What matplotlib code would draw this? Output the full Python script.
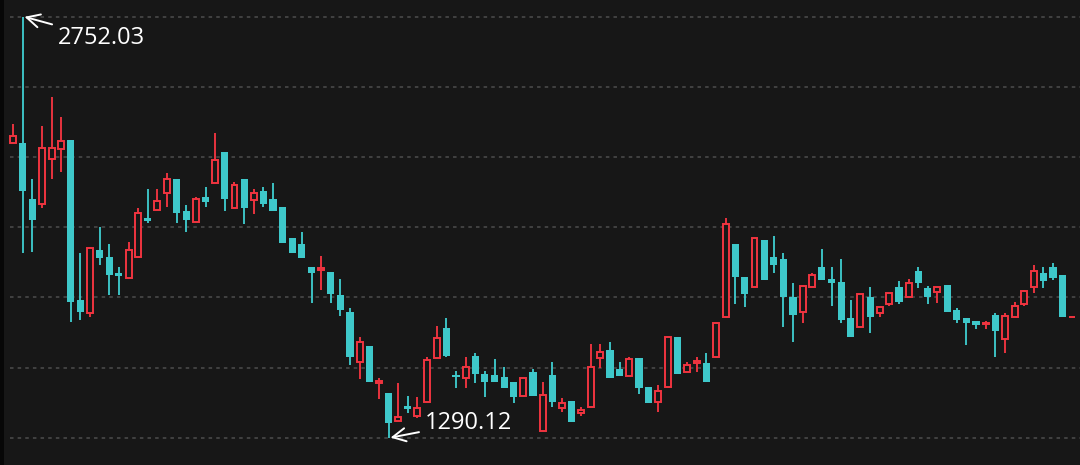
import numpy as np
import matplotlib
matplotlib.use("Agg")
import matplotlib.pyplot as plt

plt.rcParams['font.family'] = ['Open Sans', 'DejaVu Sans']

# daily candles
opens = [2314.5, 2314.5, 2120.0, 2102.6, 2258.9, 2293.6, 2324.9, 1769.3, 1724.1, 1942.9,
         1918.6, 1863.0, 1845.7, 1918.6, 2054.0, 2081.8, 2140.8, 2189.5, 2078.3, 2040.1,
         2127.0, 2175.6, 2283.2, 2088.8, 2189.5, 2116.5, 2147.8, 2120.0, 2092.2, 1984.6,
         1963.7, 1883.9, 1873.5, 1866.5, 1786.6, 1727.6, 1554.0, 1609.5, 1481.1, 1446.3,
         1349.1, 1401.2, 1366.5, 1415.1, 1567.9, 1672.1, 1508.8, 1498.4, 1574.8, 1512.3,
         1508.8, 1501.9, 1484.5, 1435.9, 1519.3, 1314.4, 1508.8, 1394.3, 1418.6, 1376.9,
         1397.7, 1567.9, 1595.7, 1529.7, 1505.4, 1567.9, 1467.2, 1415.1, 1467.2, 1640.8,
         1519.3, 1550.5, 1550.5, 1571.4, 1710.3, 1963.7, 1849.2, 1814.4, 1977.6, 1918.6,
         1911.7, 1779.7, 1727.6, 1814.4, 1883.9, 1842.2, 1831.8, 1706.8, 1675.5, 1779.7,
         1724.1, 1755.4, 1814.4, 1779.7, 1870.0, 1811.0, 1797.1, 1821.4, 1734.6, 1706.8,
         1696.4, 1685.9, 1717.2, 1633.9, 1710.3, 1755.4, 1814.4, 1863.0, 1883.9, 1856.1,
         1710.3]
highs = [2380.4, 2752.03, 2189.5, 2373.5, 2474.2, 2404.7, 2324.9, 1932.5, 1953.3, 2022.8,
         1963.7, 1883.9, 1970.7, 2088.8, 2154.7, 2154.7, 2210.3, 2189.5, 2099.2, 2127.0,
         2161.7, 2349.2, 2283.2, 2179.0, 2189.5, 2154.7, 2161.7, 2175.6, 2092.2, 1984.6,
         2005.4, 1883.9, 1922.1, 1866.5, 1842.2, 1741.5, 1640.8, 1609.5, 1498.4, 1446.3,
         1481.1, 1435.9, 1432.5, 1571.4, 1679.0, 1706.8, 1522.7, 1571.4, 1585.2, 1522.7,
         1564.4, 1536.6, 1484.5, 1498.4, 1529.7, 1484.5, 1554.0, 1429.0, 1418.6, 1397.7,
         1616.5, 1616.5, 1623.4, 1554.0, 1571.4, 1567.9, 1467.2, 1474.1, 1640.8, 1640.8,
         1554.0, 1571.4, 1585.2, 1689.4, 2054.0, 1963.7, 1849.2, 1984.6, 1977.6, 1991.5,
         1932.5, 1828.3, 1817.9, 1863.0, 1946.4, 1883.9, 1911.7, 1769.3, 1790.1, 1814.4,
         1745.0, 1793.6, 1835.3, 1842.2, 1883.9, 1817.9, 1814.4, 1821.4, 1741.5, 1706.8,
         1696.4, 1696.4, 1724.1, 1724.1, 1762.3, 1804.0, 1890.8, 1883.9, 1897.8, 1856.1,
         1710.3]
lows = [2314.5, 1932.5, 1936.0, 2088.8, 2189.5, 2213.8, 1692.9, 1699.8, 1710.3, 1890.8,
        1786.6, 1786.6, 1845.7, 1918.6, 2036.7, 2081.8, 2092.2, 2036.7, 2005.4, 2040.1,
        2092.2, 2175.6, 2078.3, 2088.8, 2033.2, 2067.9, 2092.2, 2078.3, 1967.2, 1932.5,
        1915.1, 1758.9, 1804.0, 1758.9, 1713.7, 1543.6, 1495.0, 1484.5, 1425.5, 1290.12,
        1349.1, 1376.9, 1359.5, 1415.1, 1567.9, 1571.4, 1463.7, 1463.7, 1481.1, 1432.5,
        1484.5, 1463.7, 1411.6, 1435.9, 1435.9, 1314.4, 1397.7, 1380.4, 1345.6, 1366.5,
        1397.7, 1533.2, 1498.4, 1505.4, 1505.4, 1442.9, 1411.6, 1380.4, 1467.2, 1512.3,
        1519.3, 1519.3, 1484.5, 1571.4, 1710.3, 1755.4, 1745.0, 1814.4, 1838.7, 1863.0,
        1675.5, 1623.4, 1689.4, 1814.4, 1838.7, 1748.4, 1689.4, 1640.8, 1675.5, 1654.7,
        1710.3, 1748.4, 1755.4, 1779.7, 1811.0, 1755.4, 1758.9, 1727.6, 1689.4, 1613.0,
        1668.6, 1668.6, 1571.4, 1585.2, 1710.3, 1748.4, 1793.6, 1811.0, 1838.7, 1710.3,
        1710.3]
closes = [2338.8, 2147.8, 2047.1, 2297.1, 2297.1, 2321.4, 1762.3, 1727.6, 1949.9, 1915.1,
          1856.1, 1852.6, 1942.9, 2071.4, 2043.6, 2113.1, 2189.5, 2071.4, 2047.1, 2120.0,
          2109.6, 2255.4, 2120.0, 2168.6, 2088.8, 2140.8, 2102.6, 2078.3, 1967.2, 1932.5,
          1915.1, 1863.0, 1880.4, 1790.1, 1734.6, 1571.4, 1623.4, 1484.5, 1488.0, 1342.2,
          1363.0, 1390.8, 1394.3, 1560.9, 1637.3, 1574.8, 1501.9, 1536.6, 1512.3, 1484.5,
          1484.5, 1463.7, 1432.5, 1498.4, 1435.9, 1439.4, 1415.1, 1411.6, 1345.6, 1387.3,
          1536.6, 1588.7, 1498.4, 1505.4, 1564.4, 1463.7, 1411.6, 1453.3, 1640.8, 1512.3,
          1543.6, 1557.5, 1484.5, 1689.4, 2033.2, 1849.2, 1790.1, 1984.6, 1838.7, 1890.8,
          1779.7, 1717.2, 1817.9, 1856.1, 1838.7, 1828.3, 1699.8, 1640.8, 1790.1, 1710.3,
          1745.0, 1793.6, 1762.3, 1828.3, 1828.3, 1779.7, 1814.4, 1727.6, 1699.8, 1689.4,
          1682.5, 1689.4, 1661.6, 1713.7, 1748.4, 1800.5, 1870.0, 1835.3, 1845.7, 1710.3,
          1710.3]

BG = '#171717'
RED = '#f03440'
TEAL = '#3ec8ca'
GRID = '#4d4d4d'

o = np.array(opens)
h = np.array(highs)
l = np.array(lows)
c = np.array(closes)
x = np.arange(len(o))
up = c >= o
cols = np.where(up, RED, TEAL)
body_lo = np.minimum(o, c)
body_hi = np.maximum(o, c)

fig = plt.figure(figsize=(10.8, 4.65), dpi=100, facecolor='#070707')
ax = fig.add_axes([4 / 1080, 0, 1 - 4 / 1080, 1])
ax.set_facecolor(BG)

# grid: 7 evenly spaced levels from low to high
lo, hi = l.min(), h.max()
step = (hi - lo) / 6
for lvl in np.linspace(lo, hi, 7):
    ax.axhline(lvl, xmin=0.006, color=GRID, lw=1.1, ls=(0, (2.3, 2.7)), zorder=0)

# wicks
ax.vlines(x, body_hi, h, colors=cols, lw=1.35, zorder=2)
ax.vlines(x, l, body_lo, colors=cols, lw=1.35, zorder=2)

# bodies: rising = hollow red, falling = filled teal
ax.bar(x[up], (body_hi - body_lo)[up], bottom=body_lo[up], width=0.62,
       facecolor=BG, edgecolor=RED, linewidth=1.4, zorder=3)
ax.bar(x[~up], (body_hi - body_lo)[~up], bottom=body_lo[~up], width=0.74,
       color=TEAL, linewidth=0, zorder=3)

ax.set_xlim(-0.935, 110.8)
ax.set_ylim(lo - 0.39 * step, hi + 0.24 * step)

# max / min labels
imax = int(np.argmax(h))
imin = int(np.argmin(l))
arrow = dict(arrowstyle='->, head_length=0.55, head_width=0.28', color='white',
             lw=1.4, shrinkA=2, shrinkB=0)
ax.annotate(f"{h[imax]:.2f}", xy=(imax + 0.2, h[imax]), xytext=(33, -21),
            textcoords='offset pixels', color='white', fontsize=17,
            ha='left', va='center', arrowprops=arrow, zorder=5)
ax.annotate(f"{l[imin]:.2f}", xy=(imin + 0.2, l[imin]), xytext=(34, 15),
            textcoords='offset pixels', color='white', fontsize=17,
            ha='left', va='center', arrowprops=arrow, zorder=5)

ax.set_xticks([])
ax.set_yticks([])
for s in ax.spines.values():
    s.set_visible(False)

fig.savefig('out.png', dpi=100, facecolor=fig.get_facecolor())
